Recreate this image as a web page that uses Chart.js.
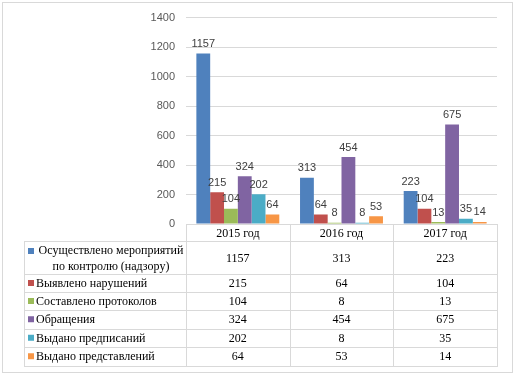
<!DOCTYPE html>
<html>
<head>
<meta charset="utf-8">
<script src="https://cdn.jsdelivr.net/npm/chart.js@4.4.0/dist/chart.umd.min.js"></script>
<style>
  body { margin: 0; background: #fff; }
</style>
</head>
<body>
<canvas id="chart" width="515" height="376"></canvas>
<script>
// data
var years = ['2015 год', '2016 год', '2017 год'];
var seriesNames = [
    ['Осуществлено мероприятий', 'по контролю (надзору)'],
    ['Выявлено нарушений'],
    ['Составлено протоколов'],
    ['Обращения'],
    ['Выдано предписаний'],
    ['Выдано представлений']
];
var controlEvents = [1157, 313, 223];
var violations = [215, 64, 104];
var protocols = [104, 8, 13];
var appeals = [324, 454, 675];
var orders = [202, 8, 35];
var submissions = [64, 53, 14];
var yMax = 1400;
var yStep = 200;

var colors = ['#4F81BD', '#C0504D', '#9BBB59', '#8064A2', '#4BACC6', '#F79646'];
var seriesValues = [controlEvents, violations, protocols, appeals, orders, submissions];

var datasets = seriesValues.map(function (vals, i) {
    return {
        label: seriesNames[i].join(' '),
        data: vals,
        backgroundColor: colors[i],
        categoryPercentage: 0.8,
        barPercentage: 1.0
    };
});

var sansFont = '11px "Liberation Sans", Arial, sans-serif';
var serifFont = '12px "Liberation Serif", "Times New Roman", serif';
var lineColor = '#D9D9D9';

// value labels above the bars
var barLabels = {
    id: 'barLabels',
    afterDatasetsDraw: function (chart) {
        var ctx = chart.ctx;
        ctx.save();
        ctx.font = sansFont;
        ctx.fillStyle = '#404040';
        ctx.textAlign = 'center';
        ctx.textBaseline = 'bottom';
        chart.data.datasets.forEach(function (ds, i) {
            chart.getDatasetMeta(i).data.forEach(function (bar, j) {
                ctx.fillText(ds.data[j], bar.x, bar.y - 4);
            });
        });
        ctx.restore();
    }
};

// excel-like data table under the plot
var dataTable = {
    id: 'dataTable',
    afterDraw: function (chart) {
        var ctx = chart.ctx;
        var area = chart.chartArea;
        var xs = chart.scales.x;
        var n = chart.data.labels.length;
        var colW = (area.right - area.left) / n;
        var tableLeft = 24;
        var rowH = [17, 33, 18, 18, 18.5, 18.5, 18.5];
        var rowY = [area.bottom];
        rowH.forEach(function (h, i) { rowY.push(rowY[i] + h); });
        var bottom = rowY[rowY.length - 1];

        ctx.save();
        ctx.strokeStyle = lineColor;
        ctx.lineWidth = 1;
        ctx.beginPath();
        // header top
        ctx.moveTo(area.left, Math.round(rowY[0]) + 0.5);
        ctx.lineTo(area.right, Math.round(rowY[0]) + 0.5);
        for (var r = 1; r < rowY.length; r++) {
            var y = Math.round(rowY[r]) + 0.5;
            ctx.moveTo(tableLeft, y);
            ctx.lineTo(area.right, y);
        }
        ctx.moveTo(tableLeft + 0.5, Math.round(rowY[1]));
        ctx.lineTo(tableLeft + 0.5, Math.round(bottom) + 1);
        for (var c = 0; c <= n; c++) {
            var x = Math.round(area.left + c * colW) + 0.5;
            ctx.moveTo(x, Math.round(rowY[0]));
            ctx.lineTo(x, Math.round(bottom) + 1);
        }
        ctx.stroke();

        // outer frame
        ctx.strokeRect(2.5, 2.5, chart.width - 5, chart.height - 6);

        ctx.font = serifFont;
        ctx.fillStyle = '#000';
        ctx.textBaseline = 'middle';
        ctx.textAlign = 'center';
        chart.data.labels.forEach(function (lab, i) {
            ctx.fillText(lab, xs.getPixelForValue(i), (rowY[0] + rowY[1]) / 2 + 1);
        });

        chart.data.datasets.forEach(function (ds, s) {
            var top = rowY[s + 1], bot = rowY[s + 2];
            var mid = (top + bot) / 2 + 1;
            ds.data.forEach(function (v, i) {
                ctx.textAlign = 'center';
                ctx.fillText(v, xs.getPixelForValue(i), mid);
            });
            var lines = seriesNames[s];
            ctx.fillStyle = ds.backgroundColor;
            if (lines.length > 1) {
                ctx.fillRect(tableLeft + 4, top + 7, 6, 6);
                ctx.fillStyle = '#000';
                ctx.textAlign = 'center';
                var cx = (tableLeft + 12 + area.left) / 2;
                ctx.fillText(lines[0], cx, mid - 8);
                ctx.fillText(lines[1], cx, mid + 8);
            } else {
                ctx.fillRect(tableLeft + 4, mid - 4, 6, 6);
                ctx.fillStyle = '#000';
                ctx.textAlign = 'left';
                ctx.fillText(lines[0], tableLeft + 12, mid);
            }
            ctx.fillStyle = '#000';
        });
        ctx.restore();
    }
};

new Chart(document.getElementById('chart'), {
    type: 'bar',
    data: {
        labels: years,
        datasets: datasets
    },
    options: {
        responsive: false,
        animation: false,
        layout: {
            padding: { left: 0, top: 16, right: 18, bottom: 152 }
        },
        plugins: {
            legend: { display: false },
            tooltip: { enabled: false }
        },
        scales: {
            x: { display: false },
            y: {
                min: 0,
                max: yMax,
                ticks: {
                    stepSize: yStep,
                    color: '#595959',
                    font: { family: '"Liberation Sans", Arial, sans-serif', size: 11 },
                    padding: 11,
                    callback: function (v) { return String(v); }
                },
                grid: { color: lineColor, drawTicks: false },
                border: { display: false },
                afterFit: function (scale) { scale.width = 186; }
            }
        }
    },
    plugins: [barLabels, dataTable]
});
</script>
</body>
</html>
